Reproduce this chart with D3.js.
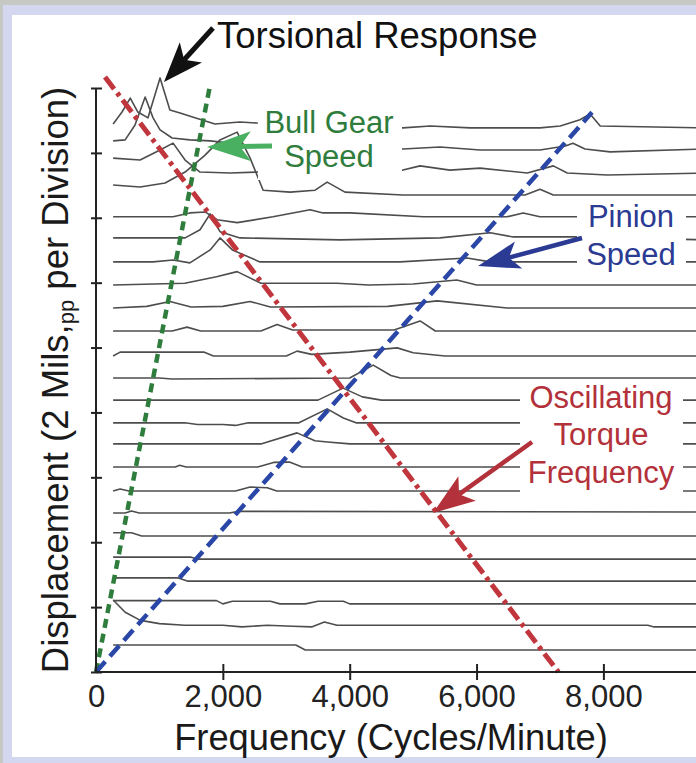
<!DOCTYPE html>
<html>
<head>
<meta charset="utf-8">
<script src="https://cdn.jsdelivr.net/npm/d3@7/dist/d3.min.js"></script>
<style>
  html, body { margin: 0; padding: 0; background: #c6c9c3; }
  svg { display: block; font-family: "Liberation Sans", Arial, sans-serif; }
</style>
</head>
<body>
<svg id="chart"></svg>
<script>
/**
 * waterfall of vibration spectra, displacement vs frequency
 */

const WIDTH = 696;
const HEIGHT = 763;

// axes
const FREQ_TICKS = [0, 2000, 4000, 6000, 8000];
const DISP_TICKS = [0, 2, 4, 6, 8, 10, 12, 14, 16, 18];

// offset of each spectrum in the waterfall, bottom one first (mils)
const BASELINES = [0.68, 1.39, 2.10, 2.80, 3.48, 4.19, 4.90, 5.58, 6.32, 7.03, 7.68, 8.38,
                   9.06, 9.74, 10.51, 11.22, 11.93, 12.64, 13.32, 14.03, 14.70, 15.38, 16.12, 16.77];

// spectra: [frequency (cpm), amplitude above own baseline (mils)]
const s01 = [[270, 0.15], [3150, 0.15], [3300, 0], [9600, 0]];
const s02 = [[270, 0.83], [460, 0.45], [700, 0.2], [1000, 0.1], [1400, 0.05], [2000, 0.05], [2300, 0],
             [2700, 0.05], [3100, 0.02], [3400, 0], [3600, 0.15], [3800, 0.05], [4200, 0.05], [8700, 0.05], [8800, 0], [9600, 0]];
const s03 = [[270, 0.1], [1900, 0.1], [2000, 0], [2150, 0.08], [2750, 0.08], [2900, 0], [3300, 0],
             [3500, 0.08], [3900, 0.08], [4000, 0], [9600, 0]];
const s04 = [[270, 0.1], [1300, 0.1], [1450, 0], [9600, 0]];
const s05 = [[270, 0.06], [1500, 0.06], [1600, 0], [9600, 0]];
const s06 = [[270, 0.1], [560, 0.1], [720, 0], [9600, 0]];
const s07 = [[270, 0], [460, 0], [560, 0.06], [680, 0], [2100, 0], [2250, 0.05], [9600, 0.03]];
const s08 = [[270, 0], [380, 0.06], [520, 0], [2200, 0], [2430, 0.12], [2700, 0.1], [2850, 0], [9600, 0]];
const s09 = [[270, 0], [1250, 0], [1320, 0.05], [1420, 0], [2550, 0], [2800, 0.14], [3050, 0.15], [3250, 0], [9600, 0]];
const s10 = [[270, 0], [2600, 0], [3170, 0.34], [3450, 0.1], [3650, 0.06], [4000, 0], [9600, 0]];
const s11 = [[270, 0], [1400, 0], [1600, -0.05], [2000, -0.05], [2200, -0.08], [2400, 0], [3200, 0],
             [3645, 0.43], [3900, 0.15], [4100, 0], [9600, 0]];
const s12 = [[270, 0], [3500, 0], [3895, 0.37], [4200, 0.1], [4500, 0], [9600, 0]];
const s13 = [[270, 0], [1000, 0], [1200, -0.03], [4000, 0], [4370, 0.4], [4650, 0.08], [4800, 0], [9600, 0]];
const s14 = [[270, 0], [380, 0.12], [1700, 0.12], [1850, 0], [3000, 0], [3170, 0.15], [3400, 0.05],
             [4000, 0.12], [4750, 0.25], [5000, 0.1], [5500, 0], [9600, 0]];
const s15 = [[270, 0], [1200, 0], [1435, 0.12], [1650, 0], [2600, 0], [2855, 0.2], [3100, 0.03],
             [4700, 0.03], [5110, 0.31], [5350, 0], [9600, 0]];
const s16 = [[270, 0], [800, 0.05], [1165, 0.2], [1500, 0.03], [2000, 0.05], [2430, 0.2], [2750, 0.03],
             [4600, 0.05], [5380, 0.22], [6480, 0], [9600, 0]];
const s17 = [[270, 0], [1400, 0.05], [1900, 0.25], [2225, 0.41], [2600, 0.05], [3800, 0.05], [4300, 0],
             [5000, 0.03], [5690, 0.15], [6000, 0], [9600, 0]];
const s18 = [[270, 0], [900, 0], [1215, 0.06], [1480, -0.03], [1800, 0.37], [1955, 0.74], [2150, 0.37],
             [2585, 0], [4795, 0], [5850, 0.12], [6215, 0], [9600, 0]];
const s19 = [[270, 0.06], [1405, 0.06], [1640, 0.31], [1800, 0.8], [1955, 0.25], [2270, 0.06], [3850, 0],
             [5425, 0.06], [6215, 0.22], [6575, 0.09], [7520, 0.09], [9600, 0]];
const s20 = [[270, 0], [1215, 0], [1480, 0.12], [1720, 0.15], [1910, -0.09], [2225, -0.18], [2790, 0],
             [3375, 0.22], [3580, 0.12], [4005, 0.12], [5160, 0], [6480, 0], [6735, 0.12], [7000, 0], [9600, 0]];
const s21 = [[270, 0.31], [695, 0.25], [1090, 0.37], [1405, 0.71], [1720, 1.23], [1955, 1.7], [2225, 1.94],
             [2430, 1.14], [2635, 0.15], [3060, 0.09], [3455, 0.15], [3645, 0.4], [3925, 0.09], [4840, 0],
             [6765, 0], [7000, 0.18], [7210, 0], [9600, 0]];
const s22 = [[270, 0.46], [695, 0.4], [1010, 0.71], [1215, 0.92], [1405, 0.4], [1640, 0.03], [2115, 0],
             [2555, 0.03], [4840, 0.09], [5110, 0.22], [5580, 0.09], [6055, 0.15], [6800, 0], [7210, 0.22],
             [7430, 0], [8060, -0.06], [9600, 0]];
const s23 = [[270, 0.25], [460, 0.28], [615, 0.74], [775, 1.6], [900, 0.96], [1010, 0.59], [1200, 0.34],
             [1480, 0.28], [1800, 0.25], [2540, 0.09], [4840, 0], [5425, 0.06], [6055, -0.03], [7000, -0.03],
             [7400, 0.09], [7520, 0.18], [7710, 0], [8105, -0.09], [9600, 0]];
const s24 = [[270, 0.12], [410, 0.49], [540, 0.92], [660, 0.49], [820, 0.31], [1010, 1.54], [1165, 0.55],
             [1325, 0.46], [1560, 0.31], [1875, 0.12], [2270, 0.18], [2540, 0.15], [3200, 0.12], [4840, 0],
             [5270, 0.06], [5900, 0], [7000, 0], [7320, 0.06], [7630, 0.25], [7790, 0.43], [7950, 0.06], [9600, 0]];

const SPECTRA = [s01, s02, s03, s04, s05, s06, s07, s08, s09, s10, s11, s12,
                 s13, s14, s15, s16, s17, s18, s19, s20, s21, s22, s23, s24];

// order lines [frequency (cpm), displacement position (mils)]
const BULL_GEAR_SPEED = [[0, 0], [1800, 18.1]];
const PINION_SPEED = [[0, 0], [7820, 17.25]];
const TORQUE_FREQ = [[142, 18.34], [7290, 0]];

const svg = d3.select("#chart")
              .attr("width", WIDTH)
              .attr("height", HEIGHT);

// frame
svg.append("rect").attr("width", WIDTH).attr("height", HEIGHT).attr("fill", "#c6c9c3");
svg.append("rect").attr("x", 3).attr("y", 5).attr("width", WIDTH - 3).attr("height", HEIGHT - 5).attr("fill", "#d4d7f0");
svg.append("rect").attr("x", 12).attr("y", 15).attr("width", WIDTH - 12).attr("height", 742).attr("fill", "#ffffff");

const x = d3.scaleLinear().domain([0, 9460]).range([96, 696]);
const y = d3.scaleLinear().domain([0, 18]).range([672, 88]);

svg.append("clipPath")
   .attr("id", "panel")
   .append("rect")
   .attr("x", 12).attr("y", 15).attr("width", WIDTH - 12).attr("height", 742);

const line = d3.line()
               .x(d => x(d[0]))
               .y(d => y(d[1]));

// spectra
svg.append("g")
   .attr("clip-path", "url(#panel)")
   .selectAll("path")
   .data(SPECTRA)
   .join("path")
   .attr("fill", "none")
   .attr("stroke", "#4d4d4d")
   .attr("stroke-width", 1.6)
   .attr("stroke-linejoin", "round")
   .attr("d", (d, i) => line(d.map(p => [p[0], p[1] + BASELINES[i]])));

// white boxes behind the labels
const boxes = [[258, 108, 144, 72], [577, 200, 109, 75], [520, 382, 163, 113]];
svg.append("g")
   .selectAll("rect")
   .data(boxes)
   .join("rect")
   .attr("x", d => d[0]).attr("y", d => d[1])
   .attr("width", d => d[2]).attr("height", d => d[3])
   .attr("fill", "#ffffff");

// order lines
svg.append("path")
   .attr("fill", "none")
   .attr("stroke", "#2f7d3c")
   .attr("stroke-width", 4.5)
   .attr("stroke-dasharray", "9,6")
   .attr("d", line(BULL_GEAR_SPEED));

svg.append("path")
   .attr("fill", "none")
   .attr("stroke", "#2a46a6")
   .attr("stroke-width", 4.5)
   .attr("stroke-dasharray", "14,7")
   .attr("d", line(PINION_SPEED));

svg.append("path")
   .attr("fill", "none")
   .attr("stroke", "#c1363d")
   .attr("stroke-width", 5)
   .attr("stroke-dasharray", "15,5,4,5")
   .attr("d", line(TORQUE_FREQ));

// axes
const xAxis = svg.append("g")
                 .attr("transform", `translate(0, ${y(0)})`)
                 .call(d3.axisBottom(x).tickValues(FREQ_TICKS).tickSize(8).tickFormat(d3.format(",")));
xAxis.select(".domain").remove();
xAxis.selectAll(".tick line").attr("y1", -8).attr("y2", 8).attr("stroke", "#222").attr("stroke-width", 2);
xAxis.selectAll(".tick")
     .filter(d => d === 0)
     .select("line").remove();
xAxis.selectAll(".tick text")
     .attr("y", 35).attr("dy", 0)
     .attr("font-size", 31)
     .attr("font-family", "Liberation Sans, Arial, sans-serif")
     .attr("fill", "#222");
xAxis.append("line")
     .attr("x1", x(0)).attr("x2", WIDTH)
     .attr("stroke", "#222").attr("stroke-width", 2);

const yAxis = svg.append("g")
                 .attr("transform", `translate(${x(0)}, 0)`)
                 .call(d3.axisLeft(y).tickValues(DISP_TICKS).tickSize(5).tickFormat(""));
yAxis.select(".domain").remove();
yAxis.selectAll(".tick line").attr("x1", -5).attr("x2", 6).attr("stroke", "#222").attr("stroke-width", 2);
yAxis.append("line")
     .attr("y1", y(18)).attr("y2", y(0))
     .attr("stroke", "#222").attr("stroke-width", 2);

svg.append("text")
   .attr("x", 391).attr("y", 750)
   .attr("text-anchor", "middle")
   .attr("font-size", 36.3)
   .attr("fill", "#1a1a1a")
   .text("Frequency (Cycles/Minute)");

const yTitle = svg.append("text")
                  .attr("transform", "translate(68, 380) rotate(-90)")
                  .attr("text-anchor", "middle")
                  .attr("font-size", 36.5)
                  .attr("fill", "#1a1a1a");
yTitle.append("tspan").text("Displacement (2 Mils,");
yTitle.append("tspan").attr("font-size", 22).attr("dy", 6).text("pp");
yTitle.append("tspan").attr("dy", -6).text(" per Division)");

// annotations
function arrow(from, to, color, shaft, head, half, notch)
{
    const dx = to[0] - from[0], dy = to[1] - from[1];
    const len = Math.hypot(dx, dy);
    const ux = dx / len, uy = dy / len;
    const nx = -uy, ny = ux;
    const bx = to[0] - ux * head, by = to[1] - uy * head;
    const mx = to[0] - ux * (head - notch), my = to[1] - uy * (head - notch);

    svg.append("line")
       .attr("x1", from[0]).attr("y1", from[1])
       .attr("x2", mx).attr("y2", my)
       .attr("stroke", color)
       .attr("stroke-width", shaft);

    svg.append("path")
       .attr("fill", color)
       .attr("d", `M${to[0]},${to[1]}L${bx + nx * half},${by + ny * half}L${mx},${my}L${bx - nx * half},${by - ny * half}Z`);
}

function label(lines, cx, baselines, color)
{
    svg.append("g")
       .selectAll("text")
       .data(lines)
       .join("text")
       .attr("x", cx)
       .attr("y", (d, i) => baselines[i])
       .attr("text-anchor", "middle")
       .attr("font-size", 31)
       .attr("fill", color)
       .text(d => d);
}

svg.append("text")
   .attr("x", 217).attr("y", 48)
   .attr("font-size", 36.5)
   .attr("fill", "#111")
   .text("Torsional Response");
arrow([213, 28], [164, 82], "#111", 5, 40, 15, 10);

label(["Bull Gear", "Speed"], 329, [133, 167], "#2f7d3c");
arrow([272, 146], [207, 147], "#48b060", 5, 44, 15, 11);

label(["Pinion", "Speed"], 631, [227, 265], "#2b3a92");
arrow([582, 238], [478, 266], "#2b3a92", 4.5, 42, 14, 10);

label(["Oscillating", "Torque", "Frequency"], 601, [408, 445, 483], "#b3313a");
arrow([532, 442], [433, 513], "#b3313a", 4.5, 42, 15, 10);
</script>
</body>
</html>
